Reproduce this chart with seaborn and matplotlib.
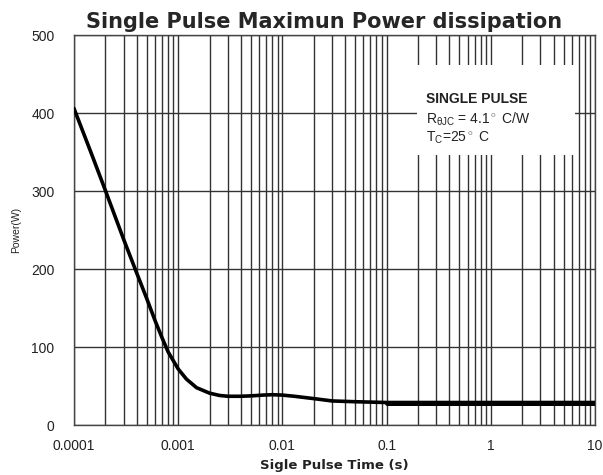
import numpy as np
import pandas as pd
import matplotlib
matplotlib.use("Agg")
import matplotlib.pyplot as plt
from matplotlib.ticker import LogLocator, NullFormatter
import seaborn as sns

# values
pulse_time = [1e-4, 1.5e-4, 2e-4, 3e-4, 4e-4, 5e-4, 6e-4, 7e-4, 8e-4, 1e-3,
              1.2e-3, 1.5e-3, 2e-3, 2.5e-3, 3e-3, 4e-3, 5e-3, 6.5e-3, 8e-3,
              1e-2, 1.3e-2, 2e-2, 3e-2, 5e-2, 0.1, 1, 10]
power = [406, 345, 301, 238, 195, 162, 134, 112, 94, 72,
         59, 48, 41, 38, 37, 37, 37.5, 38.5, 39,
         38.5, 37, 34, 31, 30, 29, 29, 29]
x_ticks = [0.0001, 0.001, 0.01, 0.1, 1, 10]
x_labels = ["0.0001", "0.001", "0.01", "0.1", "1", "10"]
y_ticks = [0, 100, 200, 300, 400, 500]

df = pd.DataFrame({"time": pulse_time, "power": power})

sns.set_style("white")
plt.rcParams['font.family'] = ['Liberation Sans', 'DejaVu Sans']
plt.rcParams['mathtext.fontset'] = 'custom'
plt.rcParams['mathtext.rm'] = 'Liberation Sans'
plt.rcParams['mathtext.it'] = 'Liberation Sans'

fig = plt.figure(figsize=(6.03, 4.75), dpi=100)
ax = fig.add_axes([0.1227, 0.105, 0.864, 0.821])

sns.lineplot(data=df, x="time", y="power", ax=ax, color="black", lw=2.6, zorder=5)
sns.lineplot(data=df[df["time"] >= 0.1], x="time", y="power", ax=ax,
             color="black", lw=3.6, zorder=5)

ax.set_xscale("log")
ax.set_xlim(1e-4, 10)
ax.set_ylim(0, 500)
ax.set_xticks(x_ticks)
ax.set_xticklabels(x_labels)
ax.xaxis.set_minor_locator(LogLocator(base=10, subs=np.arange(2, 10)))
ax.xaxis.set_minor_formatter(NullFormatter())
ax.set_yticks(y_ticks)

ax.grid(True, which="both", axis="x", color="#333333", lw=1.0)
ax.grid(True, which="major", axis="y", color="#333333", lw=1.0)
ax.set_axisbelow(True)
for s in ax.spines.values():
    s.set_color("#444444")
    s.set_linewidth(1.0)

ax.tick_params(axis="both", which="both", labelsize=10, length=0, colors="#222222")
ax.tick_params(axis="x", pad=10)
ax.tick_params(axis="y", length=4, direction="inout", width=1, pad=12)

ax.set_xlabel("Sigle Pulse Time (s)", fontsize=9.5, fontweight="bold",
              family=["DejaVu Sans"], color="#222222", labelpad=4)
ax.set_ylabel("Power(W)", fontsize=7.5, labelpad=7, color="#222222")
ax.set_title("Single Pulse Maximun Power dissipation", fontsize=15,
             fontweight="bold", family=["DejaVu Sans"], pad=5, x=0.48)

# white annotation box
ax.add_patch(plt.Rectangle((0.658, 0.692), 0.304, 0.231, transform=ax.transAxes,
                           facecolor="white", edgecolor="none", zorder=3))
ax.text(0.676, 0.836, "SINGLE PULSE", transform=ax.transAxes, fontsize=10,
        fontweight="bold", color="#222222", va="center", zorder=4)
ax.text(0.676, 0.784, r"R$_{\theta JC}$ = 4.1$^\circ$ C/W", transform=ax.transAxes,
        fontsize=10, color="#222222", va="center", zorder=4)
ax.text(0.676, 0.738, r"T$_{C}$=25$^\circ$ C", transform=ax.transAxes,
        fontsize=10, color="#222222", va="center", zorder=4)

fig.savefig("out.png", dpi=100)
